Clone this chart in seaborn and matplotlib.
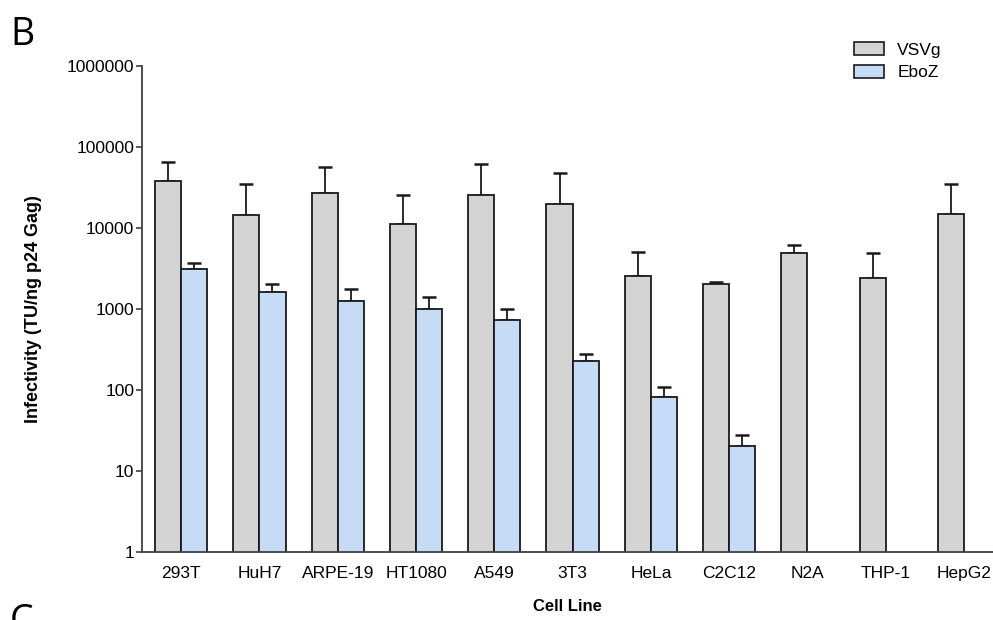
import matplotlib
matplotlib.use("Agg")
import matplotlib.pyplot as plt
import matplotlib.ticker as mticker
import numpy as np
import pandas as pd
import seaborn as sns

cell_lines = ["293T", "HuH7", "ARPE-19", "HT1080", "A549", "3T3", "HeLa",
              "C2C12", "N2A", "THP-1", "HepG2"]
vsvg_mean = [38000, 14600, 26800, 11100, 25800, 19900, 2530, 2050, 4870, 2390, 14760]
vsvg_upper = [65300, 34900, 56600, 25800, 62200, 48200, 5050, 2170, 6220, 4950, 34900]
eboz_mean = [3090, 1620, 1245, 990, 738, 230, 82.7, 20.5, np.nan, np.nan, np.nan]
eboz_upper = [3730, 2035, 1780, 1395, 1000, 281, 109, 27.6, np.nan, np.nan, np.nan]
series = ["VSVg", "EboZ"]
colors = {"VSVg": "#d4d4d4", "EboZ": "#c6dcf6"}

df = pd.DataFrame({
    "Cell Line": cell_lines * 2,
    "Envelope": ["VSVg"] * len(cell_lines) + ["EboZ"] * len(cell_lines),
    "Infectivity": vsvg_mean + eboz_mean,
    "Upper": vsvg_upper + eboz_upper,
})

sns.set_style("white")
plt.rcParams["font.family"] = ["Liberation Sans", "DejaVu Sans"]
plt.rcParams["text.color"] = "black"
plt.rcParams["axes.labelcolor"] = "black"
plt.rcParams["xtick.color"] = "black"
plt.rcParams["ytick.color"] = "black"

fig = plt.figure(figsize=(9.93, 6.2), dpi=100)
ax = fig.add_axes([142 / 993, 1 - 552 / 620, 851 / 993, (552 - 66) / 620])

sns.barplot(data=df.dropna(), x="Cell Line", y="Infectivity", hue="Envelope",
            order=cell_lines, hue_order=series, palette=colors, saturation=1,
            width=0.667, edgecolor="#1a1a1a", linewidth=1.3, errorbar=None,
            ax=ax, legend=True)

# upper error bars, matched to drawn bars (lower cap hidden behind the bar)
for cont, name in zip(ax.containers, series):
    sub = df[(df["Envelope"] == name)].dropna()
    for patch, (_, row) in zip(cont.patches, sub.iterrows()):
        xc = patch.get_x() + patch.get_width() / 2
        top = row["Infectivity"]
        err = row["Upper"] - top
        ax.errorbar([xc], [top], yerr=[[0], [err]], fmt="none",
                    ecolor="#1a1a1a", elinewidth=1.3, capsize=5, capthick=1.8,
                    zorder=0.5)

ax.set_yscale("log")
ax.set_ylim(1, 1e6)
ax.set_xlim(-0.5, 10.37)
ax.yaxis.set_major_locator(mticker.LogLocator(base=10, numticks=10))
ax.yaxis.set_minor_locator(mticker.NullLocator())
ax.yaxis.set_major_formatter(mticker.FuncFormatter(lambda v, p: f"{int(round(v))}"))

for side in ["top", "right"]:
    ax.spines[side].set_visible(False)
for side in ["left", "bottom"]:
    ax.spines[side].set_color("#404040")
    ax.spines[side].set_linewidth(1.3)

ax.tick_params(axis="y", which="major", left=True, length=4, width=1.2,
               color="#404040", labelsize=12.5, pad=1.5)
ax.tick_params(axis="x", length=0, labelsize=12.5, pad=10)

ax.set_ylabel("Infectivity (TU/ng p24 Gag)", fontsize=13, fontweight="bold")
ax.yaxis.set_label_coords(-0.118, 0.5)
ax.set_xlabel("Cell Line", fontsize=12, fontweight="bold", labelpad=13)

leg = ax.legend(loc="upper left", bbox_to_anchor=(854 / 993, 1 - 42 / 620),
                bbox_transform=fig.transFigure, frameon=False, fontsize=12.5,
                handlelength=1.75, handleheight=0.8, handletextpad=0.75,
                borderpad=0, borderaxespad=0, labelspacing=0.4)
for h in leg.legend_handles:
    h.set_edgecolor("#1a1a1a")
    h.set_linewidth(1.2)

fig.text(10 / 993, 1 - 45 / 620, "B", fontsize=27, family=["Open Sans", "DejaVu Sans"])
fig.text(10 / 993, 1 - 603 / 620, "C", fontsize=27, family=["Open Sans", "DejaVu Sans"],
         va="top")

fig.savefig("out.png", dpi=100)
